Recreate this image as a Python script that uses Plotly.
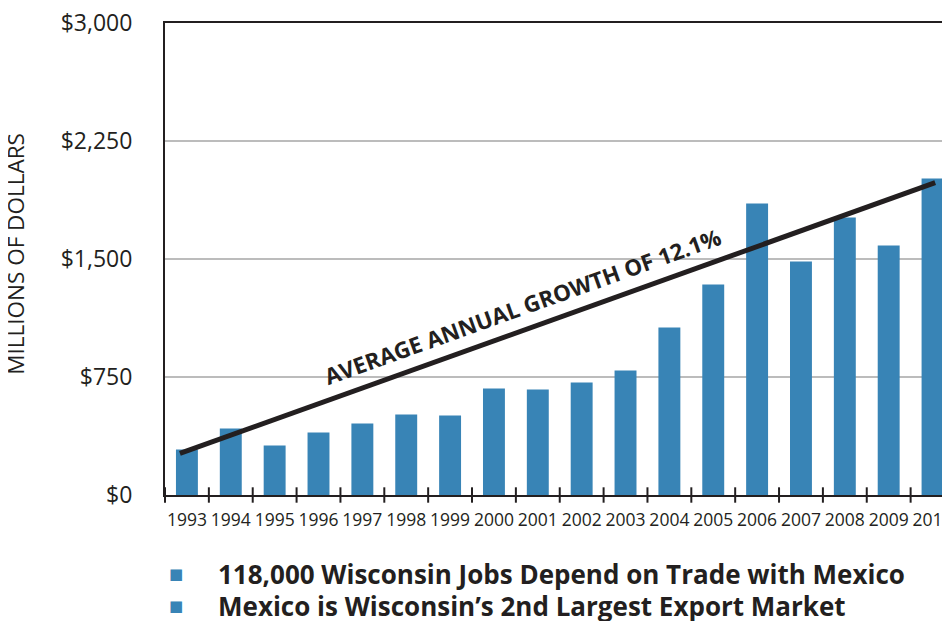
import plotly.graph_objects as go

years = list(range(1993, 2011))
exports = [289, 423, 315, 397, 455, 512, 505, 677, 671, 715, 791, 1065, 1338, 1853, 1484, 1764, 1586, 2012]

trend_x = [1992.84, 2010.06]
trend_y = [264, 1985]

ytick_vals = [0, 750, 1500, 2250, 3000]
ytick_text = ["$0", "$750", "$1,500", "$2,250", "$3,000"]

bullets = ["118,000 Wisconsin Jobs Depend on Trade with Mexico",
           "Mexico is Wisconsin\u2019s 2nd Largest Export Market"]

boundaries = [y - 0.5 for y in years]

DARK = "#231f20"
BLUE = "#3884b6"
FONT = "Open Sans"

# page body has an 8px default margin; compensate so the screenshot lines up
OFF = 8
L, T = 165 - OFF, 23 - OFF
PLOT_H = 472.5
B = 621 - T - PLOT_H

fig = go.Figure()
fig.add_trace(go.Bar(x=years, y=exports, width=0.5, marker=dict(color=BLUE, line=dict(width=0)),
                     showlegend=False, hoverinfo="x+y"))
fig.add_trace(go.Scatter(x=trend_x, y=trend_y, mode="lines", line=dict(color=DARK, width=5),
                         showlegend=False, hoverinfo="skip"))
fig.add_trace(go.Scatter(x=boundaries, y=[0] * len(boundaries), mode="markers",
                         marker=dict(symbol="line-ns", size=11, line=dict(color=DARK, width=2)),
                         cliponaxis=False, showlegend=False, hoverinfo="skip"))

fig.update_layout(
    width=950, height=621,
    margin=dict(l=L, r=8, t=T, b=B),
    plot_bgcolor="white", paper_bgcolor="white",
    font=dict(family=FONT, color=DARK),
    bargap=0.5,
)
fig.update_xaxes(
    range=[1992.5, 1992.5 + 785 / 43.86],
    tickvals=years, ticktext=[str(y) for y in years],
    tickfont=dict(size=17.5, color=DARK, family=FONT),
    ticks="", ticklabelstandoff=8, ticklabeloverflow="allow",
    showline=True, linecolor=DARK, linewidth=2, mirror=True,
    showgrid=False, zeroline=False, automargin=False,
)
fig.update_yaxes(
    range=[0, 3000],
    tickvals=ytick_vals, ticktext=ytick_text,
    tickfont=dict(size=23, color=DARK, family=FONT),
    ticks="", ticklabelstandoff=26, ticklabeloverflow="allow",
    showline=True, linecolor=DARK, linewidth=2,
    showgrid=True, gridcolor="#bcbcbc", gridwidth=1.5,
    zeroline=False, automargin=False,
)


def py(ypix):
    return (621 - B - (ypix - OFF)) / PLOT_H


def px(xpix):
    return (xpix - OFF - L) / 785


annotations = [
    dict(text="MILLIONS OF DOLLARS", xref="paper", yref="paper", x=px(16), y=py(254),
         xanchor="center", yanchor="middle", textangle=-90, showarrow=False,
         font=dict(size=22.5, color=DARK, family=FONT)),
    dict(text="<b>AVERAGE ANNUAL GROWTH OF 12.1%</b>", x=2000.66, y=1198, xref="x", yref="y",
         textangle=-19.7, showarrow=False, font=dict(size=22.5, color=DARK, family=FONT)),
]
bullet_y = [574.5, 606.5]
for t, ypix in zip(bullets, bullet_y):
    annotations.append(dict(text="\u25a0", xref="paper", yref="paper", x=px(176), y=py(ypix),
                            xanchor="center", yanchor="middle", showarrow=False,
                            font=dict(size=15, color=BLUE, family="DejaVu Sans")))
    annotations.append(dict(text="<b>" + t + "</b>", xref="paper", yref="paper", x=px(216), y=py(ypix),
                            xanchor="left", yanchor="middle", showarrow=False,
                            font=dict(size=26, color=DARK, family=FONT)))
fig.update_layout(annotations=annotations)

fig.write_html("out.html")
